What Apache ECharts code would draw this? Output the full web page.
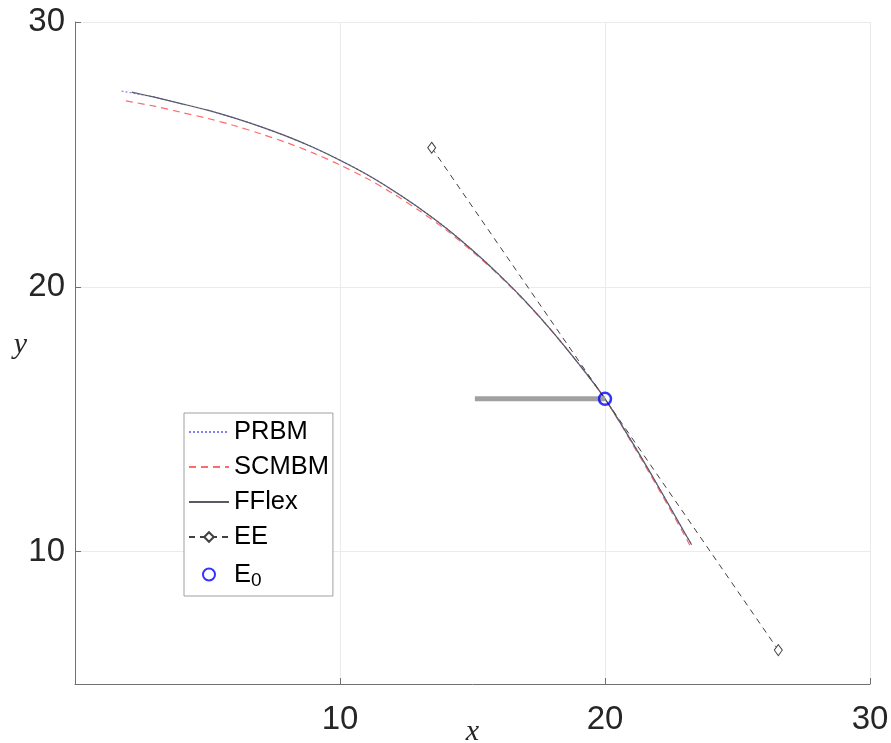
<!DOCTYPE html>
<html>
<head>
<meta charset="utf-8">
<script src="https://cdn.jsdelivr.net/npm/echarts@6/dist/echarts.min.js"></script>
<style>
html,body{margin:0;padding:0;background:#fff;}
#chart{width:891px;height:743px;}
</style>
</head>
<body>
<div id="chart"></div>
<script>
// ---- data ----
const xTicks = [10, 20, 30];
const yTicks = [10, 20, 30];

const prbmX = [1.76, 3, 4, 5, 6, 7, 8, 9, 10, 11, 12, 13, 14, 15, 16, 17, 18, 19, 20, 21, 22, 23, 23.27];
const prbmY = [27.39, 27.16, 26.92, 26.67, 26.38, 26.05, 25.68, 25.26, 24.78, 24.25, 23.64, 22.97, 22.22, 21.38, 20.46, 19.45, 18.33, 17.10, 15.77, 14.17, 12.48, 10.72, 10.26];

const scmbmX = [1.92, 3, 4, 5, 6, 7, 8, 9, 10, 11, 12, 13, 14, 15, 16, 17, 18, 19, 20, 21, 22, 23, 23.2];
const scmbmY = [27.02, 26.82, 26.59, 26.36, 26.09, 25.78, 25.44, 25.05, 24.60, 24.10, 23.52, 22.87, 22.15, 21.33, 20.43, 19.43, 18.32, 17.10, 15.77, 14.12, 12.40, 10.62, 10.24];

const fflexX = [2.14, 3, 4, 5, 6, 7, 8, 9, 10, 11, 12, 13, 14, 15, 16, 17, 18, 19, 20, 21, 22, 23, 23.27];
const fflexY = [27.35, 27.16, 26.92, 26.67, 26.38, 26.05, 25.68, 25.26, 24.78, 24.25, 23.64, 22.97, 22.22, 21.38, 20.46, 19.45, 18.33, 17.10, 15.77, 14.17, 12.48, 10.72, 10.26];

const eeX = [13.46, 26.54];
const eeY = [25.25, 6.28];

const e0X = [20.0];
const e0Y = [15.77];

const barX = [15.09, 20.0];
const barY = [15.77, 15.77];

const names = ['PRBM', 'SCMBM', 'FFlex', 'EE', 'E0'];

function zip(xs, ys) { return xs.map((x, i) => [x, ys[i]]); }

const chart = echarts.init(document.getElementById('chart'), null, {renderer: 'canvas'});
const axisColor = '#707070';
const labelColor = '#262626';
const font = 'Liberation Sans, Arial, Helvetica, sans-serif';
const hideSym = {color: 'rgba(0,0,0,0)', borderWidth: 0, opacity: 0};

chart.setOption({
  animation: false,
  backgroundColor: '#ffffff',
  grid: {left: 75, right: 21, top: 22, bottom: 59, containLabel: false, outerBoundsMode: 'none'},
  xAxis: {
    type: 'value', min: 0, max: 30, interval: 10,
    name: 'x', nameLocation: 'middle', nameGap: 33, nameMoveOverlap: false,
    nameTextStyle: {fontFamily: 'Liberation Serif, DejaVu Serif, serif', fontStyle: 'italic', fontSize: 30, color: labelColor},
    axisLine: {show: true, lineStyle: {color: axisColor, width: 1}},
    axisTick: {show: true, inside: true, length: 6, lineStyle: {color: axisColor}},
    axisLabel: {fontSize: 33, fontFamily: font, color: labelColor, margin: 19,
      formatter: v => (xTicks.indexOf(v) >= 0 ? String(v) : '')},
    splitLine: {show: true, lineStyle: {color: '#ebebeb', width: 1}}
  },
  yAxis: {
    type: 'value', min: 5, max: 30,
    name: 'y', nameLocation: 'middle', nameGap: 48, nameRotate: 0, nameMoveOverlap: false,
    nameTextStyle: {fontFamily: 'Liberation Serif, DejaVu Serif, serif', fontStyle: 'italic', fontSize: 30, color: labelColor, verticalAlign: 'bottom', lineHeight: 16},
    axisLine: {show: true, lineStyle: {color: axisColor, width: 1}},
    axisTick: {show: true, inside: true, length: 6, lineStyle: {color: axisColor}, customValues: yTicks},
    axisLabel: {fontSize: 33, fontFamily: font, color: labelColor, margin: 10, customValues: yTicks},
    splitLine: {show: true, lineStyle: {color: '#ebebeb', width: 1}}
  },
  legend: {
    orient: 'vertical', left: 184, top: 413,
    data: [
      {name: 'PRBM', itemStyle: hideSym},
      {name: 'SCMBM', itemStyle: hideSym},
      {name: 'FFlex', itemStyle: hideSym},
      {name: 'EE'},
      {name: 'E0'}
    ],
    itemWidth: 40, itemHeight: 12, itemGap: 9,
    padding: [6, 4, 6, 4],
    backgroundColor: '#ffffff',
    borderColor: '#a0a0a0', borderWidth: 1, borderRadius: 0,
    textStyle: {fontSize: 25.5, fontFamily: font, color: '#000', lineHeight: 26,
      rich: {sub: {fontSize: 19, fontFamily: font, color: '#000', lineHeight: 19, padding: [12, 0, 0, 0]}}},
    formatter: n => (n === 'E0' ? 'E{sub|0}' : n)
  },
  series: [
    {name: 'PRBM', type: 'line', data: zip(prbmX, prbmY), symbol: 'none', smooth: 0.3, z: 2,
      lineStyle: {color: '#7f7fff', width: 1.2, type: [2, 2]}, itemStyle: {color: '#7f7fff'}},
    {name: 'SCMBM', type: 'line', data: zip(scmbmX, scmbmY), symbol: 'none', smooth: 0.3, z: 3,
      lineStyle: {color: '#ff6b6b', width: 1.2, type: [7, 5]}, itemStyle: {color: '#ff6b6b'}},
    {name: 'FFlex', type: 'line', data: zip(fflexX, fflexY), symbol: 'none', smooth: 0.3, z: 4,
      lineStyle: {color: '#5a5a66', width: 1.2}, itemStyle: {color: '#5a5a66'}},
    {name: 'EE', type: 'line', data: zip(eeX, eeY), symbol: 'diamond', symbolSize: [8, 11], z: 5,
      lineStyle: {color: '#404040', width: 1, type: [6, 5]},
      itemStyle: {color: '#ffffff', borderColor: '#404040', borderWidth: 1}},
    {name: 'bar', type: 'line', data: zip(barX, barY), symbol: 'none', z: 6,
      lineStyle: {color: '#a0a0a0', width: 5}, silent: true},
    {name: 'E0', type: 'scatter', data: zip(e0X, e0Y), symbol: 'circle', symbolSize: 12, z: 7,
      itemStyle: {color: 'rgba(255,255,255,0)', borderColor: '#0000ff', borderWidth: 2.5}}
  ]
});
</script>
</body>
</html>
